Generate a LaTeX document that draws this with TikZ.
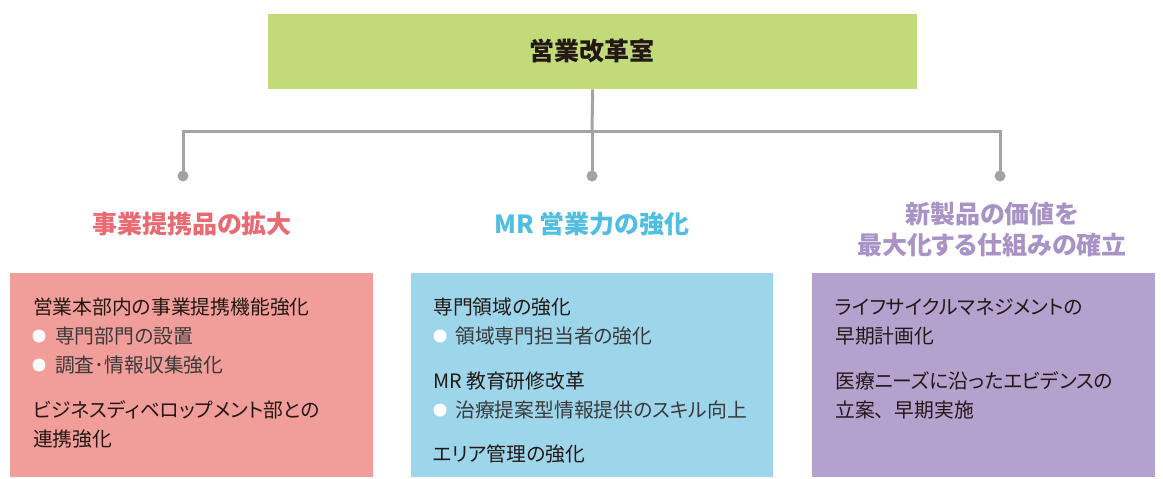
\documentclass[tikz,border=0pt]{standalone}
\usepackage{fontspec}
\newfontfamily\cjk[RawFeature=+palt]{Noto Sans CJK JP}
\newfontfamily\cjkfull{Noto Sans CJK JP}
\definecolor{topgreen}{HTML}{C1DB7B}
\definecolor{redhead}{HTML}{E96A72}
\definecolor{redbox}{HTML}{F19E9B}
\definecolor{cyanhead}{HTML}{50BEE0}
\definecolor{cyanbox}{HTML}{9DD5EA}
\definecolor{purphead}{HTML}{A892C6}
\definecolor{purpbox}{HTML}{B3A2CE}
\definecolor{linegray}{HTML}{A3A3A3}
\definecolor{ink}{HTML}{231815}
\definecolor{subink}{HTML}{3A3A3A}
\tikzset{
  panel/.style={draw=none, inner sep=0, anchor=north west},
  head/.style={font=\cjk\bfseries\fontsize{25}{30}\selectfont, inner sep=0, text height=22pt, text depth=3pt, align=center},
  txt/.style={font=\cjk\fontsize{19.8}{24}\selectfont, text=ink, inner sep=0, anchor=west, text height=17.4pt, text depth=2.4pt},
  subtxt/.style={txt, text=subink},
  bul/.style={circle, fill=white, inner sep=0, minimum size=13pt},
  conn/.style={draw=linegray, line width=3pt},
  dot/.style={circle, fill=linegray, inner sep=0, minimum size=11pt}
}
\begin{document}
\begin{tikzpicture}[x=1pt,y=-1pt]
\useasboundingbox (0,0) rectangle (1163,479);
% top box
\node[panel, fill=topgreen, minimum width=649pt, minimum height=75pt] (top) at (268,14) {};
\node[head, text=ink] (toptxt) at (592,51) {営業改革室};
% connectors
\node[dot] (d1) at (183,176) {};
\node[dot] (d2) at (592,176) {};
\node[dot] (d3) at (1000,176) {};
\coordinate (hub) at (592,131);
\coordinate (hl) at (183,131);
\coordinate (hr) at (1000,131);
\draw[conn] (top.south) -- (hub);
\draw[conn] (d1.center) -- (hl) -- (hr) -- (d3.center);
\draw[conn] (hub) -- (d2.center);
% headings
\node[head, text=redhead] (h1) at (192,224) {事業提携品の拡大};
\node[head, text=cyanhead] (h2) at (592,224) {MR 営業力の強化};
\node[head, text=purphead] (h3a) at (992,214) {新製品の価値を};
\node[head, text=purphead] (h3b) at (992,245) {最大化する仕組みの確立};
% panels
\node[panel, fill=redbox, minimum width=363pt, minimum height=204pt] (p1) at (10,273) {};
\node[panel, fill=cyanbox, minimum width=362pt, minimum height=204pt] (p2) at (411,273) {};
\node[panel, fill=purpbox, minimum width=343pt, minimum height=204pt] (p3) at (812,273) {};
% left panel text
\node[txt] (l1) at (33,307) {営業本部内の事業提携機能強化};
\node[bul] (lb1) at (39,336) {};
\node[subtxt] (l2) at (55,336) {専門部門の設置};
\node[bul] (lb2) at (39,365) {};
\node[subtxt] (l3) at (55,365) {調査･情報収集強化};
\node[txt] (l4) at (33,410) {ビジネスディベロップメント部との};
\node[txt] (l5) at (33,439) {連携強化};
% middle panel text
\node[txt] (m1) at (433,307) {専門領域の強化};
\node[bul] (mb1) at (440,336) {};
\node[subtxt] (m2) at (455,336) {領域専門担当者の強化};
\node[txt] (m3) at (433,381) {MR 教育研修改革};
\node[bul] (mb2) at (440,410) {};
\node[subtxt] (m4) at (455,410) {治療提案型情報提供のスキル向上};
\node[txt] (m5) at (433,454) {エリア管理の強化};
% right panel text
\node[txt] (r1) at (835,307) {ライフサイクルマネジメントの};
\node[txt] (r2) at (835,336) {早期計画化};
\node[txt] (r3) at (835,381) {医療ニーズに沿ったエビデンスの};
\node[txt, font=\cjkfull\fontsize{19.8}{24}\selectfont] (r4) at (835,410) {立案、早期実施};
\end{tikzpicture}
\end{document}
